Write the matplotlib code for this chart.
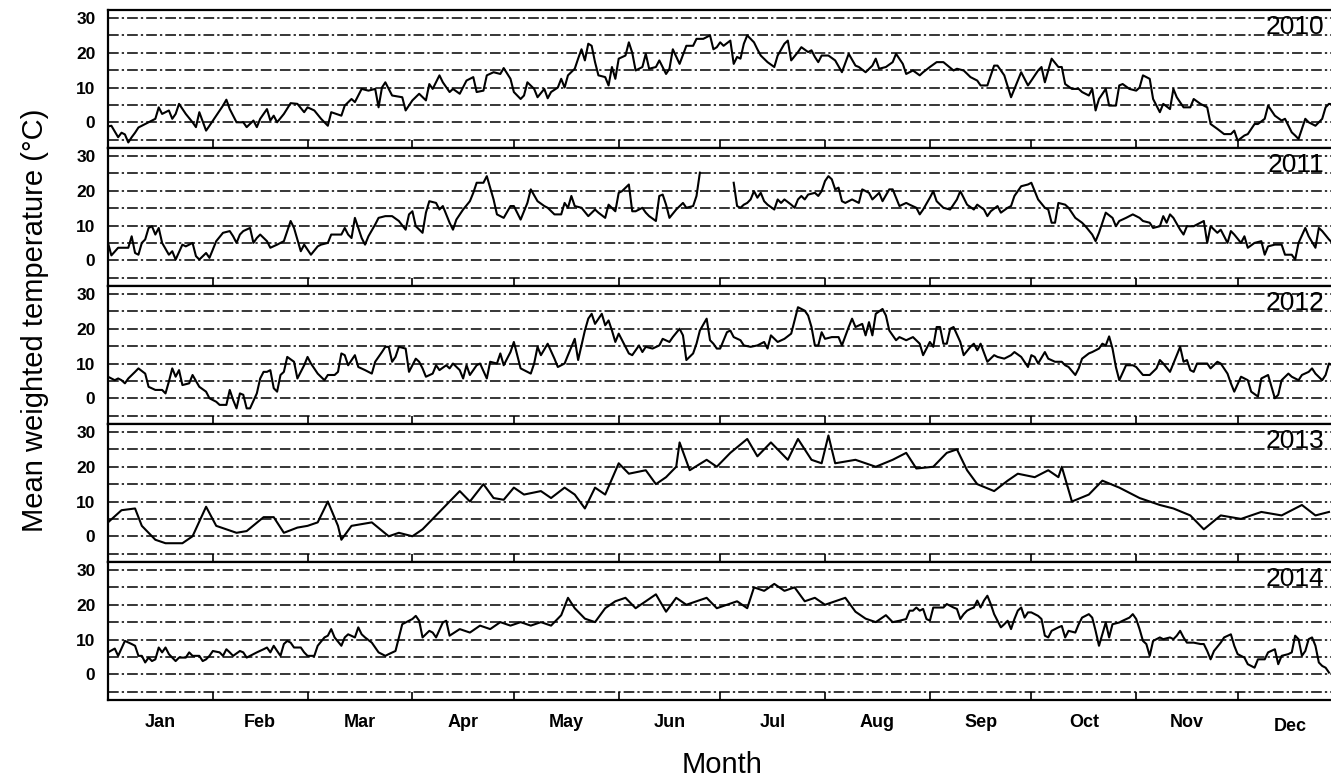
import matplotlib.pyplot as plt
from matplotlib.transforms import ScaledTranslation
import numpy as np

# Jahre / Panels
years = ['2010', '2011', '2012', '2013', '2014']
month_names = ['Jan', 'Feb', 'Mar', 'Apr', 'May', 'Jun',
               'Jul', 'Aug', 'Sep', 'Oct', 'Nov', 'Dec']
month_ends = [31, 59, 90, 120, 151, 181, 212, 243, 273, 304, 334, 365]

# Tag im Jahr und mittlere gewichtete Temperatur
days_2010 = [0, 1, 3, 4, 5, 6, 7, 8, 9, 11, 12, 14, 15, 16, 18, 19, 20, 21, 23, 25,
             26, 27, 29, 30, 32, 34, 35, 36, 38, 40, 41, 43, 44, 45, 47, 48, 49, 50, 52, 54,
             56, 58, 59, 61, 63, 65, 66, 69, 70, 72, 73, 75, 77, 79, 80, 81, 82, 84, 87, 88,
             90, 92, 94, 95, 96, 98, 99, 101, 102, 104, 106, 108, 109, 111, 112, 114, 116, 117, 119, 120,
             122, 123, 124, 126, 127, 129, 130, 131, 133, 134, 135, 136, 138, 139, 140, 141, 142, 143, 144, 145,
             147, 148, 149, 150, 151, 153, 154, 155, 156, 158, 159, 160, 162, 163, 165, 166, 167, 169, 171, 173,
             174, 176, 178, 179,
             180, 181, 182, 184, 185, 186, 187, 188, 189, 191, 192, 193, 195, 197, 198, 200, 201, 202, 204, 205,
             207, 208, 209, 210, 211, 213, 215, 217, 219, 221, 222, 224, 226, 227, 228, 230, 232, 233, 235, 236,
             238, 240, 241, 243, 245, 247, 250, 251, 253, 255, 257, 258, 260, 262, 263, 265, 267, 269, 270, 272,
             273, 275, 276, 277, 278, 279, 281, 282, 283, 285, 287, 288, 290, 291, 292, 293, 295, 296, 298, 299,
             300, 302, 304, 305, 306, 308, 309, 311, 312, 314, 315, 316, 318, 320, 321, 323, 325, 326, 328, 330,
             332, 333, 334, 336, 337, 339, 340, 342, 343, 345, 347, 348, 350, 351, 352, 354, 355, 357, 359, 360,
             361, 363, 364]
temp_2010 = [-1.2, -1, -4.3, -3, -3.5, -5.8, -4.3, -3, -1.5, -0.5, 0, 1, 4.3, 2.4, 3.4, 1, 2.4, 5.3, 2.4, 0,
             -1.4, 2.9, -2.4, -1, 1.9, 4.8, 6.5, 3.8, 0, 0, -1.4, 0.5, -1.4, 1, 3.8, 0.5, 1.9, 0, 2.4, 5.5,
             5.3, 2.9, 4.3, 3.4, 1, -1, 2.9, 1.9, 4.8, 6.7, 5.8, 9.6, 9.1, 9.6, 4.3, 10, 11.5, 7.7, 7.2, 3.4,
             6.3, 8.2, 6.3, 11, 9.6, 13.5, 11.5, 8.7, 9.6, 8.2, 12, 13, 8.7, 9.1, 13.5, 14.4, 13.9, 15.6, 12.5, 8.7,
             6.7, 7.7, 11.5, 9.6, 7.2, 9.6, 6.9, 8.7, 10, 12.5, 10, 13.5, 15.4, 18.3, 21, 17.8, 22.6, 22, 17.3, 13.5,
             13, 10.6, 15.9, 12.5, 18.3, 19.2, 23, 20, 14.9, 15.9, 19.7, 15.4, 15.9, 17.8, 13.9, 15.4, 21, 16.8, 22, 22,
             24, 24, 25, 21,
             21.6, 23, 22, 23.5, 16.8, 18.8, 18.3, 22.6, 25, 23, 21, 19.2, 17.3, 15.9, 19.2, 22.6, 23.5, 17.8, 20.2, 21.6,
             20.2, 20.7, 18.8, 17.3, 19.2, 19.2, 17.8, 14.4, 19.7, 16.3, 15.9, 14.4, 16.3, 18.3, 15.4, 15.9, 17.3, 19.7, 16.8, 13.9,
             14.9, 13.5, 14.4, 15.9, 17.3, 17.3, 14.9, 15.4, 14.9, 13, 12, 10.6, 10.6, 16.3, 16.3, 13.5, 7.2, 12, 14.4, 10.6,
             12, 14.9, 15.9, 11.5, 14.9, 18.3, 15.9, 15.9, 11, 9.6, 9.6, 8.7, 7.7, 9.6, 3.4, 6.7, 9.6, 4.8, 4.8, 10.6,
             11, 9.6, 9.1, 10, 13.5, 12.5, 6.7, 2.9, 5.3, 3.8, 9.6, 7.2, 4.3, 4.3, 6.7, 5.3, 4.3, -0.5, -1.9, -3.4,
             -3.4, -2.4, -5.3, -3.8, -3.4, -0.5, -0.5, 1, 4.8, 1.9, 0.5, 1, -2.9, -3.8, -4.8, 1, 0, -1, 1, 4.3,
             5.3, 5, 4.5]

days_2011 = [0, 1, 3, 4, 6, 7, 8, 9, 10, 11, 12, 13, 14, 15, 16, 18, 19, 20, 22, 23,
             25, 26, 27, 29, 30, 32, 34, 36, 37, 38, 39, 40, 42, 43, 44, 45, 47, 48, 50, 52,
             53, 54, 55, 57, 58, 60, 62, 63, 65, 66, 69, 70, 71, 72, 73, 75, 76, 77, 79, 80,
             82, 84, 86, 88, 89, 90, 91, 93, 94, 95, 97, 98, 99, 101, 102, 103, 105, 107, 108, 109,
             111, 112, 113, 114, 115, 117, 119, 120, 122, 124, 125, 127, 129, 130, 132, 134, 135, 136, 137, 138,
             140, 142, 144, 145, 147, 148, 150, 151, 152, 154, 155, 156, 158, 159, 160, 162, 163, 164, 165, 166,
             168, 170, 171, 173, 174, 175, 176,
             185, 186, 187, 188, 189, 190, 191, 192, 193, 194, 195, 197, 198, 199, 200, 202, 203, 204, 205, 206,
             207, 209, 210, 211, 212, 213, 214, 215, 216, 217, 218, 220, 222, 223, 225, 226, 228, 229, 231, 232,
             233, 234, 236, 237, 239, 240, 241, 243, 244, 245, 247, 249, 251, 252, 254, 256, 257, 259, 260, 261,
             263, 264, 266, 267, 268, 270, 272, 273, 274, 275, 277, 278, 279, 280, 281, 283, 284, 286, 288, 289,
             291, 292, 293, 294, 295, 297, 298, 299, 301, 303, 305, 306, 308, 309, 311, 312, 313, 314, 315, 317,
             318, 319, 321, 322, 324, 325, 326, 328, 329, 331, 332, 333, 335, 336, 337, 339, 341, 342, 343, 345,
             347, 348, 350, 351, 352, 354, 355, 357, 358, 359, 361, 362, 364]
temp_2011 = [5, 1.4, 3.6, 3.6, 3.6, 6.9, 2.1, 1.6, 5, 6, 9.3, 9.8, 7.4, 9.3, 5, 1.6, 2.6, 0.2, 4.5, 4,
             5, 1.2, 0.2, 2.1, 0.7, 5.5, 7.9, 8.4, 6.9, 5, 7.4, 8.4, 9.3, 5, 6.4, 7.4, 5.5, 3.6, 4.5, 5.5,
             8.4, 11.3, 9.3, 2.6, 4.5, 1.6, 4, 4.5, 5, 7.4, 7.4, 9.3, 7.4, 6.4, 12.2, 6.4, 4.5, 6.9, 10.3, 12.2,
             12.7, 12.7, 11.3, 8.8, 13.2, 14.1, 9.8, 7.9, 13.7, 17, 16.5, 14.6, 15.6, 10.8, 8.8, 11.7, 14.6, 17, 19.4, 22.3,
             22.3, 24.2, 20.9, 17.5, 13.2, 12.2, 15.6, 15.6, 11.7, 16.5, 20.4, 17, 15.6, 15.1, 13.2, 13.2, 16.5, 15.1, 18.5, 15.6,
             15.1, 12.7, 14.6, 13.7, 12.2, 16, 14.1, 19.4, 19.9, 21.8, 14.1, 14.1, 15.1, 13.7, 12.7, 11.3, 18.5, 18.9, 16, 12.2,
             14.6, 16.5, 15.1, 15.6, 18.5, 25.2, np.nan,
             22.3, 15.6, 15.1, 16, 16.5, 17.5, 19.9, 18, 19.4, 17, 16, 14.6, 17.5, 16.5, 17.5, 16, 15.1, 17.5, 18.5, 17.5,
             18.9, 19.4, 18.5, 19.9, 22.8, 24.2, 23.3, 20.4, 20.9, 17, 16.5, 17.5, 16.5, 20.4, 19.4, 17.5, 19.4, 17, 20.4, 20.4,
             18, 15.6, 16.5, 16, 15.1, 13.2, 14.6, 18, 19.9, 17, 15.1, 14.6, 17.5, 19.9, 16, 14.6, 16, 14.6, 12.7, 14.1,
             15.6, 13.7, 15.1, 15.6, 18.5, 21.3, 21.8, 22.3, 19.9, 17.5, 15.1, 14.6, 10.8, 10.8, 16.5, 16, 15.1, 12.2, 10.8, 9.8,
             7.4, 5.5, 7.9, 10.8, 13.7, 12.2, 9.8, 11.3, 12.2, 13.2, 12.2, 11.3, 10.8, 9.3, 9.8, 12.7, 10.8, 13.2, 12.2, 8.8,
             7.4, 9.8, 9.8, 10.3, 11.3, 5, 9.8, 7.9, 8.8, 5, 8.4, 7.4, 5, 6.9, 3.6, 5, 5.5, 1.6, 4, 4.5,
             4.5, 1.6, 1.6, 0.2, 5, 9.3, 6.9, 3.6, 9.3, 8.4, 6, 5, 5]

days_2012 = [0, 2, 3, 4, 5, 6, 8, 9, 11, 12, 14, 16, 17, 18, 19, 20, 21, 22, 24, 25,
             27, 29, 30, 32, 33, 35, 36, 37, 38, 39, 40, 41, 42, 44, 45, 46, 47, 48, 49, 50,
             51, 52, 53, 55, 56, 58, 59, 60, 62, 64, 65, 67, 68, 69, 70, 71, 73, 74, 76, 78,
             79, 81, 82, 83, 84, 85, 86, 88, 89, 91, 92, 93, 94, 96, 97, 98, 100, 101, 102, 104,
             105, 106, 107, 109, 110, 112, 113, 115, 116, 117, 119, 120, 121, 122, 124, 125, 126, 127, 128, 130,
             132, 133, 135, 136, 138, 139, 140, 141, 142, 143, 144, 146, 147, 148, 149, 150, 151, 152, 154, 155,
             157, 158, 159, 161, 163, 164, 166, 167, 169, 170, 171, 173, 174, 175, 177, 178,
             179, 180, 181, 183, 184, 185, 187, 188, 190, 192, 194, 195, 196, 198, 200, 202, 203, 204, 206, 207,
             208, 209, 210, 211, 212, 214, 216, 217, 219, 220, 221, 223, 224, 225, 226, 227, 229, 230, 231, 233,
             234, 236, 238, 240, 241, 243, 244, 245, 246, 247, 248, 249, 250, 252, 253, 255, 256, 257, 258, 260,
             262, 263, 265, 267, 268, 270, 272, 273, 274, 275, 277, 278, 280, 282, 283, 284, 286, 287, 288, 290,
             291, 293, 294, 295, 296, 297, 298, 299, 301, 303, 304, 306, 308, 310, 311, 312, 314, 315, 317, 318,
             319, 320, 321, 322, 325, 326, 328, 329, 331, 332, 333, 335, 337, 338, 340, 341, 343, 344, 345, 346,
             347, 349, 350, 351, 352, 353, 355, 356, 357, 359, 360, 361, 363, 364]
temp_2012 = [6.2, 5.2, 5.7, 5.2, 4.3, 5.7, 7.6, 8.6, 7.1, 3.3, 2.4, 2.4, 1.4, 4.8, 8.6, 6.2, 8.1, 3.8, 4.3, 6.7,
             3.3, 1.9, 0, -1, -1.9, -1.9, 2.4, -0.5, -2.9, 1.4, 1, -2.9, -2.9, 1.4, 5.7, 7.6, 7.6, 8.1, 2.9, 1.9,
             6.7, 7.6, 11.9, 10.5, 5.7, 9.5, 11.9, 10, 7.1, 5.2, 6.7, 6.7, 7.6, 12.9, 12.4, 9.5, 12.4, 9, 8.1, 7.1,
             10.5, 13.3, 14.8, 14.8, 10.5, 11.9, 14.8, 14.3, 7.6, 11.4, 10.5, 8.6, 6.2, 7.1, 9.5, 8.1, 9.5, 8.6, 10, 8.1,
             5.7, 9.5, 6.7, 9.5, 10, 5.7, 10.5, 10, 12.9, 9.5, 13.3, 16.2, 12.4, 8.6, 7.6, 7.1, 10, 14.8, 12.4, 15.7,
             11.4, 9, 10, 12.4, 17.1, 11, 15.2, 19.5, 22.9, 24.3, 21.4, 24.3, 21, 22.4, 19.5, 16.2, 18.6, 16.7, 12.9, 12.4,
             15.2, 13.3, 14.8, 14.3, 15.2, 17.1, 16.2, 17.6, 20, 18.1, 11, 12.9, 15.7, 19.5, 22.9, 16.7,
             15.7, 14.3, 14.3, 19, 19.5, 17.6, 16.7, 15.2, 14.8, 15.2, 16.2, 14.3, 18.1, 16.2, 17.1, 18.6, 22.4, 26.2, 25.2, 23.8,
             20.5, 15.2, 15.2, 19, 17.1, 17.6, 17.6, 15.2, 20.5, 22.9, 20.5, 21.4, 18.1, 21.9, 18.1, 24.3, 25.7, 23.8, 19.5, 16.7,
             17.6, 16.7, 17.6, 15.7, 12.4, 16.2, 14.8, 20.5, 20.5, 15.7, 15.7, 20, 20.5, 16.2, 12.4, 14.8, 15.7, 13.8, 15.7, 10.5,
             12.4, 11.9, 11.4, 12.4, 13.3, 11.9, 9, 12.4, 11.9, 10, 13.3, 11.4, 10.5, 10.5, 9.5, 9, 6.7, 8.6, 11.4, 12.9,
             13.3, 14.3, 15.7, 15.2, 17.8, 14.3, 9, 5.2, 9.5, 9.5, 9, 6.7, 6.7, 8.6, 11, 10, 7.6, 10, 14.8, 10.5,
             11, 8.1, 7.6, 10, 10, 8.6, 10.5, 10, 7.1, 4.3, 1.9, 6.2, 5.2, 1.9, 0.5, 5.7, 6.7, 3.3, 0, 1,
             5.2, 7.1, 6.2, 5.7, 5.2, 6.7, 7.6, 8.6, 7.1, 5.2, 6.7, 10, 9, 8]

days_2013 = [0, 4, 8, 10, 14, 17, 22, 25, 29, 32, 35, 38, 41, 46, 49, 52, 56, 59, 62, 65,
             68, 69, 72, 78, 83, 86, 90, 93, 96, 99, 104, 107, 111, 114, 117, 120, 123, 128, 131, 135,
             138, 141, 144, 147, 151, 154, 159, 162, 165, 168, 169, 172, 177, 180, 184, 189, 192, 196, 201, 204,
             208, 211, 213, 215, 221, 227, 232, 236, 239, 244, 248, 251, 254, 257, 262, 266, 269, 274, 278, 281,
             282, 285, 290, 294, 299, 305, 311, 315, 320, 324, 329, 335, 341, 347, 353, 357, 361]
temp_2013 = [4, 7.5, 8, 3, -1, -2, -2, 0, 8.5, 3, 2, 1, 1.5, 5.5, 5.5, 1, 2.5, 3, 4, 10,
             3, -1, 3, 4, 0, 1, 0, 2, 5, 8, 13, 10, 15, 11, 10.5, 14, 12, 13, 11, 14,
             12, 8, 14, 12, 21, 18, 19, 15, 17, 20, 27, 19, 22, 20, 24, 28, 23, 27, 22, 28,
             22, 21, 29, 21, 22, 20, 22, 24, 19.5, 20, 24, 25, 19, 15, 13, 16, 18, 17, 19, 17,
             20, 10, 12, 16, 14, 11, 9, 8, 6, 2, 6, 5, 7, 6, 9, 6, 7]

days_2014 = [0, 2, 3, 5, 7, 8, 9, 10, 11, 12, 13, 14, 15, 16, 17, 18, 20, 21, 23, 24,
             25, 27, 28, 29, 30, 31, 33, 34, 35, 36, 37, 39, 40, 41, 43, 44, 46, 47, 48, 49,
             50, 51, 52, 53, 54, 55, 57, 58, 59, 61, 62, 64, 65, 66, 67, 69, 70, 71, 73, 74,
             75, 76, 78, 79, 80, 82, 83, 85, 86, 87, 88, 90, 91, 92, 93, 95, 96, 97, 99, 100,
             101, 104, 107, 110, 113, 116, 119, 122, 125, 128, 131, 134, 136, 138, 141, 144, 147, 150, 153, 156,
             159, 162, 165, 168, 171, 174, 177, 180, 183, 186, 189, 191, 194, 197, 200, 203, 206, 209, 212, 215,
             218, 221, 224, 227, 230, 232,
             234, 236, 237, 238, 239, 240, 241, 242, 243, 244, 245, 247, 248, 250, 251, 252, 253, 254, 255, 256,
             257, 258, 259, 260, 261, 262, 264, 265, 266, 267, 268, 269, 270, 271, 272, 273, 275, 276, 277, 278,
             279, 281, 282, 283, 284, 286, 287, 288, 290, 291, 292, 293, 294, 295, 296, 297, 299, 300, 302, 303,
             304, 305, 306, 307, 308, 309, 311, 312, 314, 315, 316, 317, 318, 319, 321, 323, 324, 325, 326, 327,
             329, 330, 332, 333, 334, 336, 337, 339, 340, 342, 343, 345, 346, 347, 349, 350, 351, 352, 353, 354,
             355, 356, 357, 358, 359, 360, 361]
temp_2014 = [6.3, 7.4, 5.3, 9.6, 8.7, 8.2, 5.3, 5.3, 3.4, 4.8, 3.8, 4.3, 7.7, 6.3, 7.7, 5.8, 3.8, 4.8, 4.8, 6.3,
             5.3, 5.3, 3.8, 4.3, 5.3, 6.7, 6.3, 5.3, 7.2, 6.3, 5.3, 6.7, 6.3, 4.8, 5.8, 6.3, 7.2, 7.7, 6.3, 8.2,
             6.7, 5.3, 8.7, 9.6, 9.1, 7.7, 7.7, 6.3, 5.3, 5.3, 8.2, 10.6, 11.1, 13, 10.6, 8.2, 10.6, 11.5, 10.6, 13.5,
             11.5, 10.6, 9.1, 7.7, 6.3, 5.3, 5.8, 6.7, 10.6, 14.4, 14.9, 15.9, 16.8, 15.4, 10.6, 12.5, 12, 10.6, 14.9, 15.4,
             11.1, 13, 12, 14, 13, 15, 14, 15, 14, 15, 14, 17, 22, 19, 16, 15, 19, 21, 22, 19,
             21, 23, 18, 22, 20, 21, 22, 19, 20, 21, 19, 25, 24, 26, 24, 25, 21, 22, 20, 21,
             22, 18, 16, 15, 17, 15,
             15.4, 15.9, 18.3, 18.3, 19.2, 18.3, 18.8, 15.9, 15.4, 19.2, 19.2, 19.2, 20.2, 19.2, 18.8, 15.9, 17.3, 18.3, 18.8, 19.2,
             21.2, 19.2, 21.2, 22.6, 20.2, 17.3, 13.5, 14.4, 15.4, 13, 15.9, 18.3, 19.2, 16.3, 17.8, 17.8, 16.8, 15.9, 11.1, 10.6,
             12.5, 13.5, 13.9, 10.6, 12.5, 12, 14.4, 16.3, 17.3, 16.3, 12.5, 8.2, 11.5, 14.9, 10.6, 14.4, 14.9, 15.4, 16.3, 17.3,
             15.9, 13, 9.6, 8.7, 5.3, 9.6, 10.6, 10.1, 10.6, 10.1, 11.1, 12.5, 10.6, 9.1, 9.1, 8.7, 8.7, 6.7, 4.3, 6.7,
             9.1, 10.6, 11.5, 8.2, 5.8, 4.8, 2.9, 1.9, 4.3, 4.3, 6.3, 7.2, 2.9, 5.3, 5.8, 6.3, 11.1, 10.1, 5.3, 6.7,
             10.1, 10.6, 8.2, 3.4, 2.4, 1.9, 0.5]

series = [(days_2010, temp_2010), (days_2011, temp_2011), (days_2012, temp_2012),
          (days_2013, temp_2013), (days_2014, temp_2014)]

fig = plt.figure(figsize=(13.31, 7.82), dpi=100)
plt.rcParams['font.family'] = ['Liberation Sans', 'DejaVu Sans']

# Achsen laufen rechts etwas ueber den Bildrand hinaus (wie im Original abgeschnitten)
left = 108 / 1331
width = (1342.5 - 108) / 1331
top = 1 - 10 / 782
h = 138 / 782
month_mid = [(a + b) / 2 for a, b in zip([0] + month_ends[:-1], month_ends)]

for i, year in enumerate(years):
    ax = fig.add_axes([left, top - (i + 1) * h, width, h])
    d, t = series[i]
    # Hilfslinien alle 5 Grad
    for lvl in range(-5, 31, 5):
        ax.axhline(lvl, color='black', lw=1.1, dashes=(7, 2, 1.5, 2), zorder=1)
    ax.plot(np.array(d), np.array(t, dtype=float), color='black', lw=1.5, zorder=3)
    ax.set_xlim(0, 365)
    ax.set_ylim(-7.4, 32.3)
    ax.set_yticks([0, 10, 20, 30])
    ax.tick_params(axis='y', length=0, pad=9, labelsize=12.5)
    for lab in ax.get_yticklabels():
        lab.set_fontweight('bold')
    ax.set_xticks(month_ends[:-1])
    ax.tick_params(axis='x', which='major', direction='in', length=6, width=1.2, labelbottom=False)
    ax.set_xticks(month_mid, minor=True)
    if i == len(years) - 1:
        ax.set_xticklabels(month_names, minor=True, fontsize=13, fontweight='bold')
        ax.tick_params(axis='x', which='minor', length=0, pad=10)
        dec = ax.get_xticklabels(minor=True)[-1]
        dec.set_transform(dec.get_transform() + ScaledTranslation(0, -0.04, fig.dpi_scale_trans))
    else:
        ax.tick_params(axis='x', which='minor', length=0, labelbottom=False)
    for s in ax.spines.values():
        s.set_linewidth(1.6)
    # Jahreszahl oben rechts im Panel
    fig.text(1324 / 1331, 1 - (27 + 138 * i) / 782, year, ha='right', va='center', fontsize=19)

fig.text(722 / 1331, 1 - 765 / 782, 'Month', ha='center', va='center', fontsize=21)
fig.text(35 / 1331, 1 - 320 / 782, 'Mean weighted temperature (°C)', ha='center', va='center',
         rotation=90, fontsize=21)

plt.savefig('out.png', dpi=100)
